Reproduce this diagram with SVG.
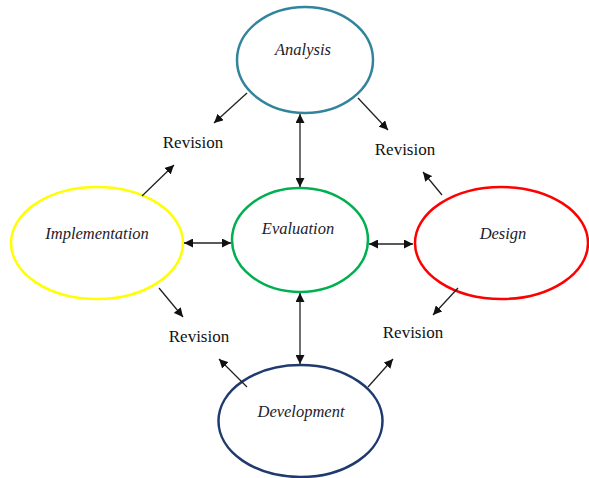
<svg xmlns="http://www.w3.org/2000/svg" width="589" height="478" viewBox="0 0 589 478">
  <defs>
    <marker id="arrow" viewBox="0 0 10 10" refX="10" refY="5" markerWidth="9" markerHeight="9" markerUnits="userSpaceOnUse" orient="auto-start-reverse">
      <path d="M0,0 L10,5 L0,10 z" fill="#111"/>
    </marker>
    <style>
      .node { fill: #ffffff; stroke-width: 2.5; }
      .name { font-family: "Liberation Serif", "Times New Roman", serif; font-style: italic; font-size: 16.5px; fill: #1c1c2a; text-anchor: middle; }
      .rev { font-family: "Liberation Serif", "Times New Roman", serif; font-size: 17px; fill: #111; text-anchor: middle; }
      .link { stroke: #222; stroke-width: 1.3; fill: none; }
      .both { marker-start: url(#arrow); marker-end: url(#arrow); }
      .one { marker-end: url(#arrow); }
    </style>
  </defs>

  <rect width="589" height="478" fill="#ffffff"/>

  <!-- process stages -->
  <g id="analysis">
    <ellipse class="node" cx="305" cy="60" rx="68" ry="53" stroke="#31849b"/>
    <text class="name" x="303" y="55">Analysis</text>
  </g>
  <g id="evaluation">
    <ellipse class="node" cx="300" cy="240" rx="68" ry="52" stroke="#00b050"/>
    <text class="name" x="298" y="234">Evaluation</text>
  </g>
  <g id="implementation">
    <ellipse class="node" cx="97" cy="243" rx="86" ry="56" stroke="#ffff00"/>
    <text class="name" x="97" y="239">Implementation</text>
  </g>
  <g id="design">
    <ellipse class="node" cx="501.5" cy="243" rx="86.5" ry="56" stroke="#ff0000"/>
    <text class="name" x="503" y="239">Design</text>
  </g>
  <g id="development">
    <ellipse class="node" cx="300.5" cy="421" rx="82" ry="56" stroke="#1f3a6e"/>
    <text class="name" x="301" y="417">Development</text>
  </g>

  <!-- revision labels -->
  <g id="revision-top-left"><text class="rev" x="193" y="148">Revision</text></g>
  <g id="revision-top-right"><text class="rev" x="405" y="155">Revision</text></g>
  <g id="revision-bottom-left"><text class="rev" x="199" y="342">Revision</text></g>
  <g id="revision-bottom-right"><text class="rev" x="413" y="338">Revision</text></g>

  <!-- connectors -->
  <g id="connectors">
    <line class="link both" x1="300" y1="114" x2="300" y2="187"/>
    <line class="link both" x1="184" y1="243" x2="231" y2="243"/>
    <line class="link both" x1="369" y1="244" x2="413" y2="244"/>
    <line class="link both" x1="300" y1="293" x2="300" y2="364"/>

    <line class="link one" x1="247" y1="93" x2="214" y2="123"/>
    <line class="link one" x1="358" y1="98" x2="388" y2="130"/>
    <line class="link one" x1="142" y1="196" x2="174" y2="165"/>
    <line class="link one" x1="442" y1="195" x2="423" y2="172"/>
    <line class="link one" x1="159" y1="288" x2="183" y2="317"/>
    <line class="link one" x1="458" y1="288" x2="433" y2="315"/>
    <line class="link one" x1="247" y1="387" x2="219" y2="359"/>
    <line class="link one" x1="368" y1="387" x2="393" y2="359"/>
  </g>
</svg>
